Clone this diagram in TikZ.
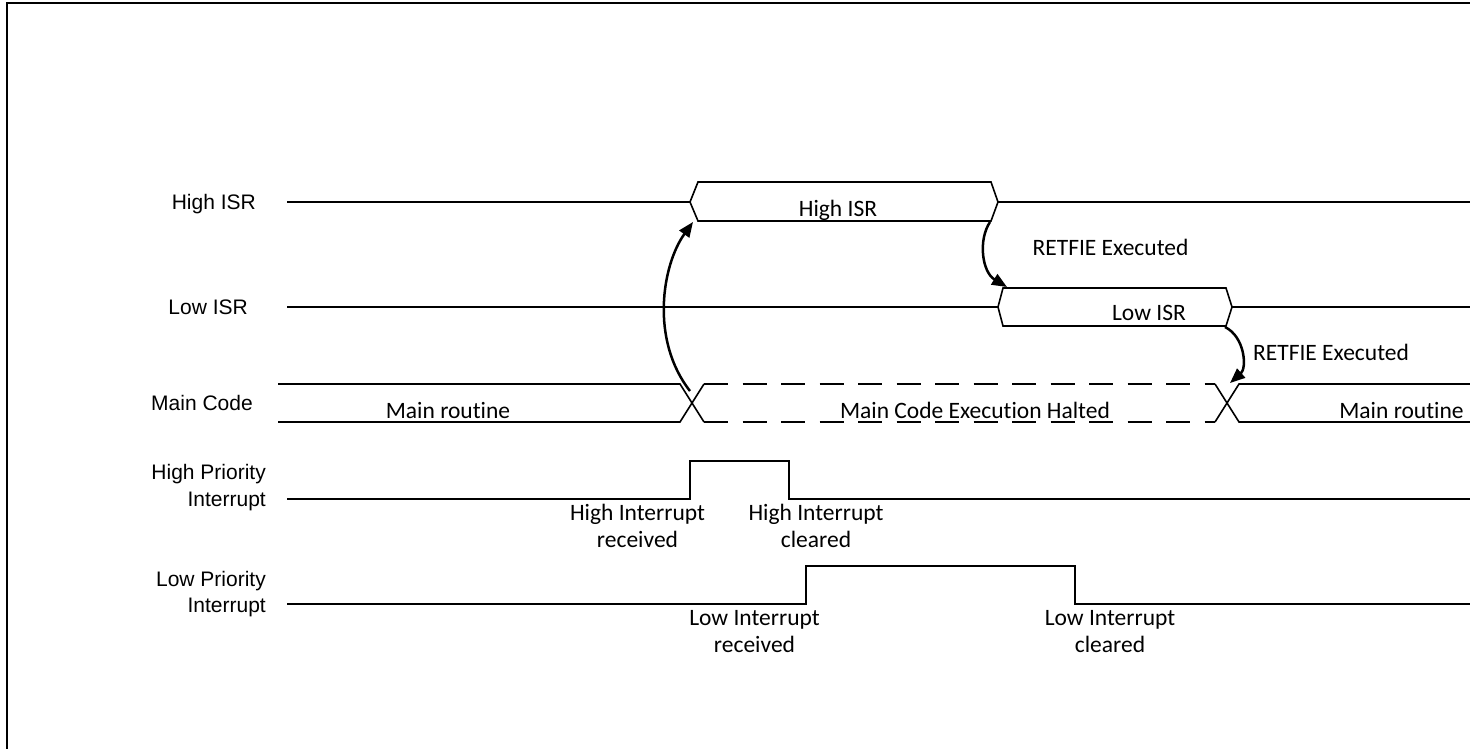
\documentclass[tikz,border=0pt]{standalone}
\usepackage{fontspec}
\setmainfont{Carlito}[Ligatures=NoCommon]
\newfontfamily\arialf{Liberation Sans}
\usetikzlibrary{arrows.meta}
\begin{document}
\begin{tikzpicture}[x=1pt,y=-1pt,
  sig/.style={line width=1.6pt,line join=miter},
  dsig/.style={line width=1.6pt,dash pattern=on 24pt off 14.5pt},
  frame/.style={line width=2.6pt},
  myarrow/.style={line width=2.5pt,-{Triangle[length=15pt,width=12pt]}},
  lbl/.style={font=\fontsize{23.5}{27}\selectfont,inner sep=0pt,anchor=base},
  side/.style={font=\arialf\fontsize{21}{25}\selectfont,inner sep=0pt,anchor=base east}]
\useasboundingbox (0,0) rectangle (1470,749);
\fill[white] (0,0) rectangle (1470,749);
% frame
\draw[frame] (7,760) -- (7,3) -- (1480,3);
% left labels
\node[side] (lhisr) at (256,209.3) {High ISR};
\node[side] (llisr) at (248,314) {Low ISR};
\node[side] (lmain) at (253,410) {Main Code};
\node[side] (lhpi1) at (266,479.3) {High Priority};
\node[side] (lhpi2) at (266,506) {Interrupt};
\node[side] (llpi1) at (266,586) {Low Priority};
\node[side] (llpi2) at (266,612.5) {Interrupt};
% High ISR
\draw[sig] (287,202) -- (690,202);
\draw[sig] (690,202) -- (698,182) -- (991,182) -- (998,202) -- (991,221) -- (698,221) -- cycle;
\draw[sig] (998,202) -- (1470,202);
\node[lbl] (thisr) at (838,216.7) {High ISR};
% Low ISR
\draw[sig] (287,307) -- (998,307);
\draw[sig] (998,307) -- (1003,288) -- (1226,288) -- (1232,307) -- (1226,326) -- (1003,326) -- cycle;
\draw[sig] (1232,307) -- (1470,307);
\node[lbl] (tlisr) at (1149,320.7) {Low ISR};
% Main code
\draw[sig] (278,384) -- (680,384) -- (704,422);
\draw[sig] (278,422) -- (680,422) -- (704,384);
\draw[dsig] (704,384) -- (1215,384);
\draw[dsig] (704,422) -- (1215,422);
\draw[sig] (1215,384) -- (1239,422) -- (1470,422);
\draw[sig] (1215,422) -- (1239,384) -- (1470,384);
\node[lbl] (tmr1) at (448,418.3) {Main routine};
\node[lbl] (thalt) at (975,418.3) {Main Code Execution Halted};
\node[lbl] (tmr2) at (1401.5,418.3) {Main routine};
% High priority interrupt
\draw[sig] (287,499) -- (690,499) -- (690,461) -- (789,461) -- (789,499) -- (1470,499);
\node[lbl] (hir1) at (637.5,520) {High Interrupt};
\node[lbl] (hir2) at (637.5,547) {received};
\node[lbl] (hic1) at (816,520) {High Interrupt};
\node[lbl] (hic2) at (816,547) {cleared};
% Low priority interrupt
\draw[sig] (287,604) -- (806,604) -- (806,566) -- (1075,566) -- (1075,604) -- (1470,604);
\node[lbl] (lir1) at (754.5,625) {Low Interrupt};
\node[lbl] (lir2) at (754.5,652.7) {received};
\node[lbl] (lic1) at (1110,625) {Low Interrupt};
\node[lbl] (lic2) at (1110,652.7) {cleared};
% RETFIE labels
\node[lbl] (ret1) at (1110.5,255) {RETFIE Executed};
\node[lbl] (ret2) at (1331,360) {RETFIE Executed};
% arrows
\coordinate (a1s) at (690,391);
\coordinate (a1e) at (693,222);
\coordinate (a2s) at (990,222);
\coordinate (a2e) at (1007,287);
\coordinate (a3s) at (1225,327);
\coordinate (a3e) at (1230,383);
\draw[myarrow] (a1s) .. controls (650,340) and (662,265) .. (a1e);
\draw[myarrow] (a2s) .. controls (978,240) and (982,272) .. (a2e);
\draw[myarrow] (a3s) .. controls (1245,337) and (1247,368) .. (a3e);
\end{tikzpicture}
\end{document}
